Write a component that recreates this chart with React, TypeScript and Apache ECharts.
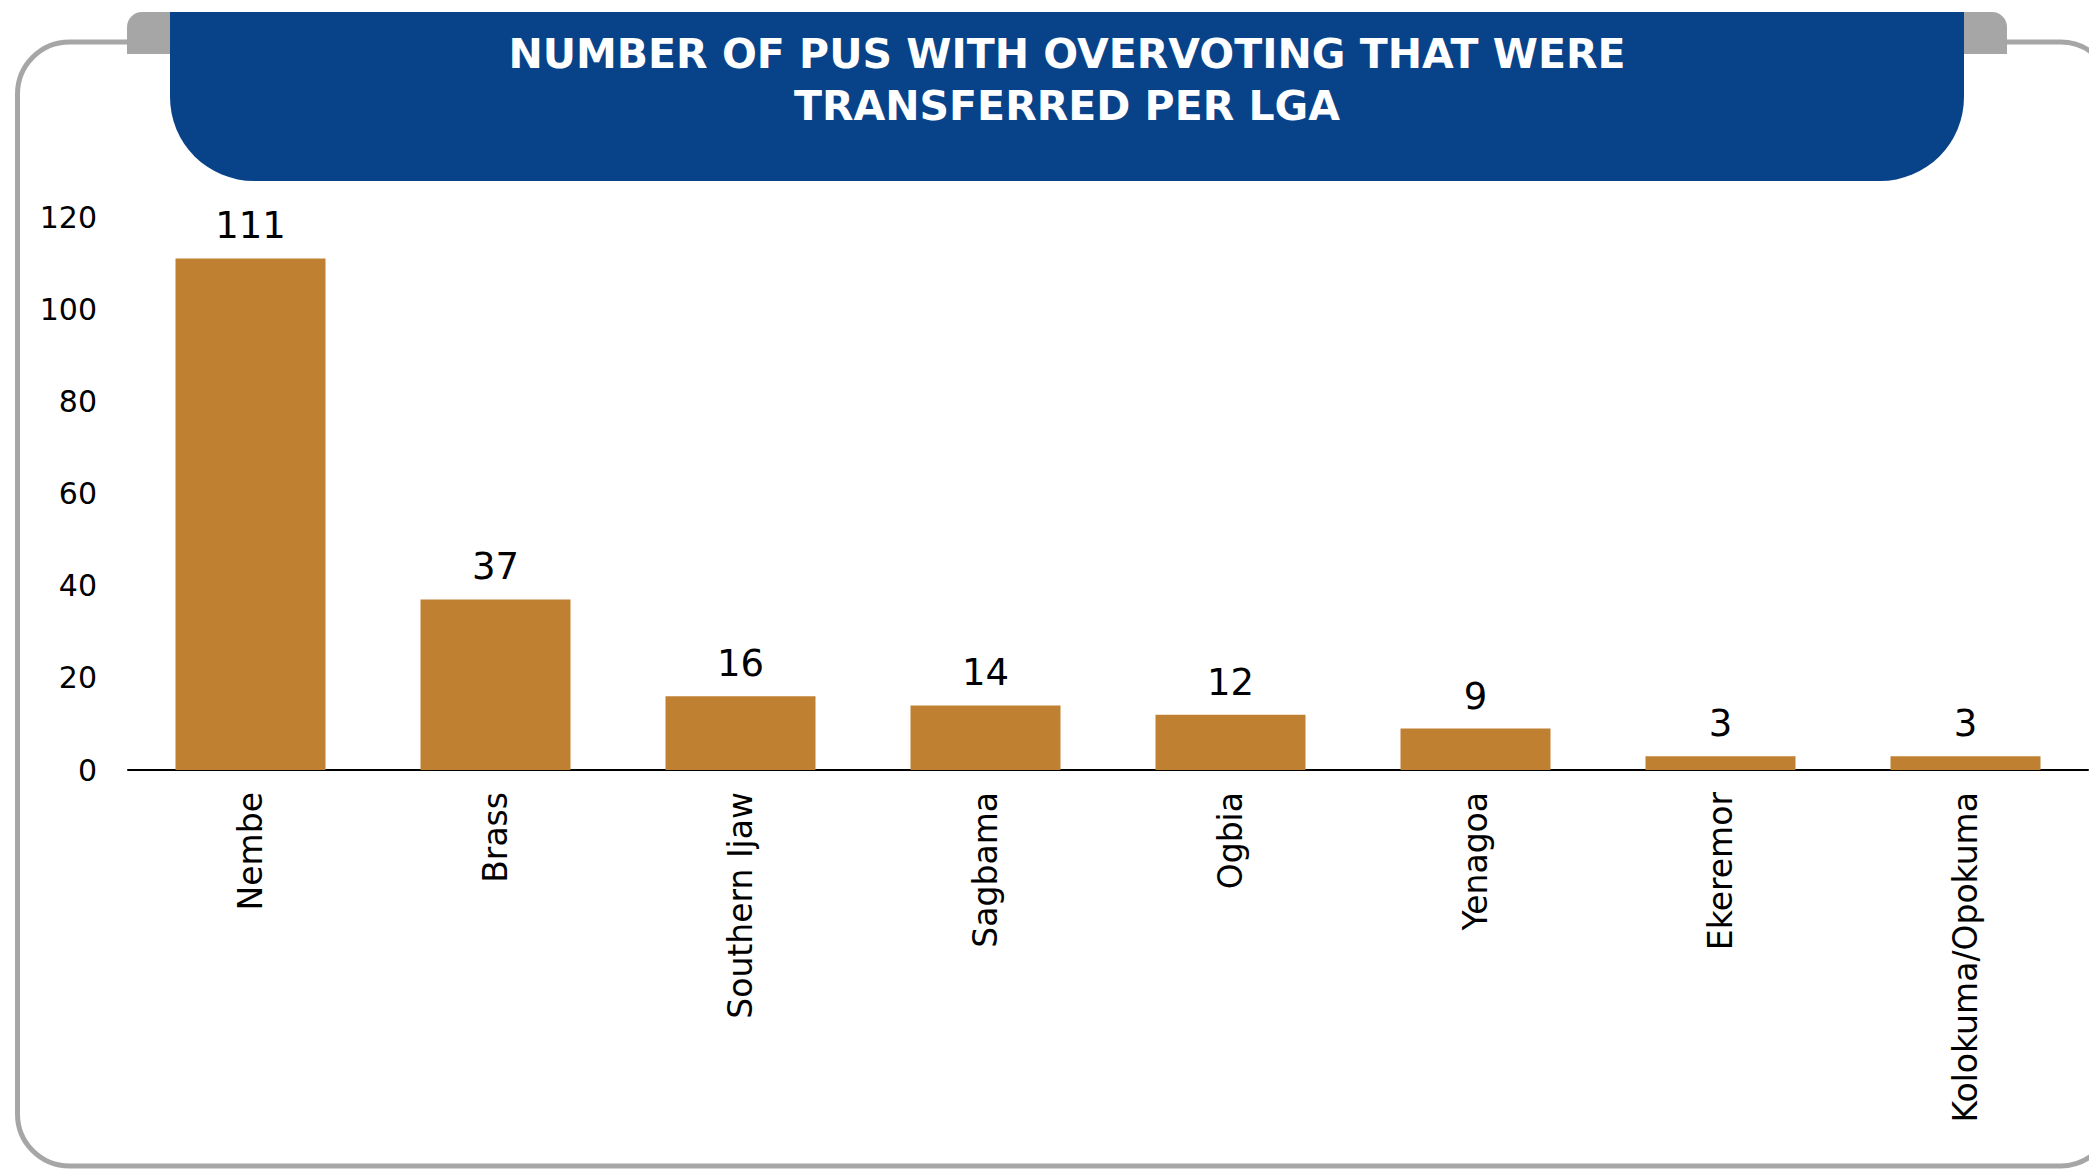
import React, { useEffect, useRef } from "react";
import * as echarts from "echarts";

const categories = [
  "Nembe",
  "Brass",
  "Southern Ijaw",
  "Sagbama",
  "Ogbia",
  "Yenagoa",
  "Ekeremor",
  "Kolokuma/Opokuma",
];
const values = [111, 37, 16, 14, 12, 9, 3, 3];
const titleLines = ["NUMBER OF PUS WITH OVERVOTING THAT WERE", "TRANSFERRED PER LGA"];
const yMin = 0;
const yMax = 120;
const yInterval = 20;

const W = 2089;
const H = 1170;

export default function App() {
  const ref = useRef<HTMLDivElement>(null);
  useEffect(() => {
    if (!ref.current) return;
    const chart = echarts.init(ref.current, undefined, { renderer: "svg", width: W, height: H });
    const font = "DejaVu Sans";
    const option: any = {
      animation: false,
      backgroundColor: "#ffffff",
      grid: { left: 128, right: 1, top: 217, bottom: 400, containLabel: false },
      xAxis: {
        type: "category",
        data: categories,
        axisLine: { show: true, lineStyle: { color: "#000000", width: 2 } },
        axisTick: { show: false },
        axisLabel: {
          interval: 0,
          rotate: 90,
          margin: 22,
          fontFamily: font,
          fontSize: 33,
          color: "#000000",
        },
      },
      yAxis: {
        type: "value",
        min: yMin,
        max: yMax,
        interval: yInterval,
        axisLine: { show: false },
        axisTick: { show: false },
        splitLine: { show: false },
        axisLabel: {
          margin: 31,
          fontFamily: font,
          fontSize: 30,
          color: "#000000",
        },
      },
      series: [
        {
          type: "bar",
          data: values,
          barWidth: 150,
          itemStyle: { color: "#C08032" },
          label: {
            show: true,
            position: "top",
            distance: 14,
            fontFamily: font,
            fontSize: 37,
            color: "#000000",
          },
        },
      ],
      graphic: [
        {
          type: "rect",
          z: 0,
          silent: true,
          shape: { x: 17.5, y: 42, width: 2095, height: 1124, r: 52 },
          style: { fill: "none", stroke: "#A6A6A6", lineWidth: 5 },
        },
        {
          type: "rect",
          z: 1,
          silent: true,
          shape: { x: 127, y: 12, width: 73, height: 42, r: [15, 0, 0, 0] },
          style: { fill: "#A6A6A6" },
        },
        {
          type: "rect",
          z: 1,
          silent: true,
          shape: { x: 1934, y: 12, width: 73, height: 42, r: [0, 15, 0, 0] },
          style: { fill: "#A6A6A6" },
        },
        {
          type: "rect",
          z: 2,
          silent: true,
          shape: { x: 170, y: 12, width: 1794, height: 169, r: [0, 0, 84, 84] },
          style: { fill: "#08438A" },
        },
        {
          type: "text",
          z: 3,
          silent: true,
          x: 1067,
          y: 80,
          style: {
            text: titleLines.join("\n"),
            fill: "#ffffff",
            fontFamily: font,
            fontWeight: "bold",
            fontSize: 41,
            lineHeight: 52,
            align: "center",
            verticalAlign: "middle",
          },
        },
      ],
    };
    chart.setOption(option);
    return () => chart.dispose();
  }, []);
  return (
    <div
      ref={ref}
      style={{ position: "fixed", left: 0, top: 0, width: W, height: H, background: "#fff" }}
    />
  );
}
